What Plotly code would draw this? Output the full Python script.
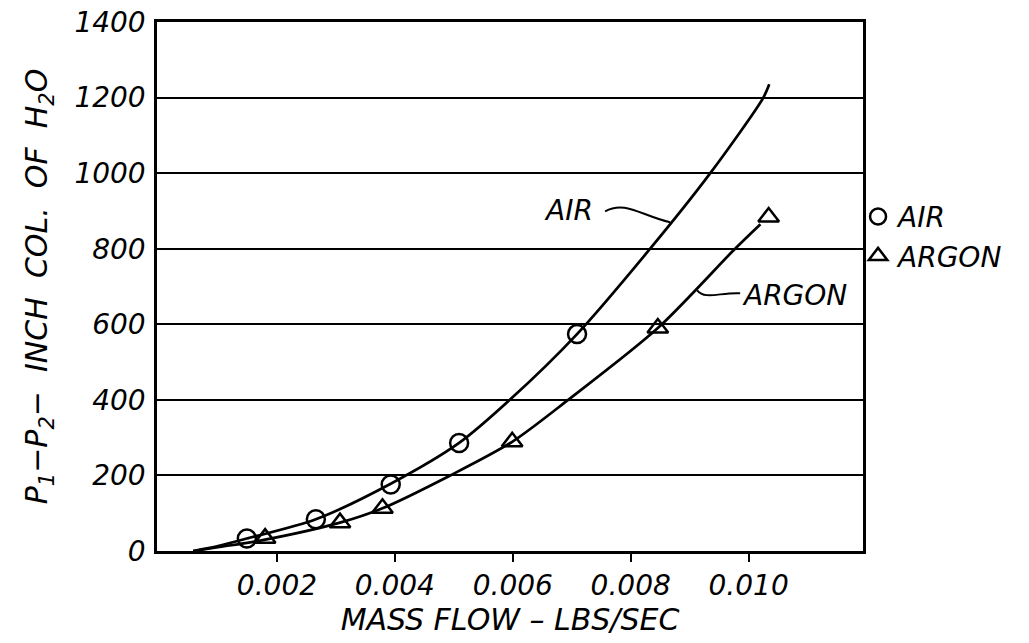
import plotly.graph_objects as go

FONT = dict(family="DejaVu Sans", size=28, color="black", style="italic")
TITLE_FONT = dict(family="DejaVu Sans", size=30, color="black", style="italic")

# measured points
air_flow = [0.00149, 0.00266, 0.00393, 0.00509, 0.00709]
air_dp = [33, 84, 176, 286, 574]
argon_flow = [0.00180, 0.00307, 0.00379, 0.00599, 0.00846, 0.01034]
argon_dp = [34, 75, 113, 289, 590, 884]

# curves as drawn through the points
air_curve_flow = [0.00058, 0.0010, 0.00149, 0.00266, 0.00393, 0.00509,
                  0.00595, 0.00709, 0.00833, 0.00935, 0.01025, 0.01035]
air_curve_dp = [0, 13, 33, 84, 178, 286, 400, 574, 800, 1000, 1200, 1235]
argon_curve_flow = [0.00058, 0.0010, 0.0018, 0.00307, 0.00379, 0.00494,
                    0.00599, 0.00694, 0.00846, 0.00977, 0.0102]
argon_curve_dp = [0, 10, 30, 75, 113, 200, 289, 400, 590, 800, 865]

x_ticks = [0.002, 0.004, 0.006, 0.008, 0.010]
x_labels = ["0.002", "0.004", "0.006", "0.008", "0.010"]
y_ticks = [0, 200, 400, 600, 800, 1000, 1200, 1400]

fig = go.Figure()
fig.add_trace(go.Scatter(x=air_curve_flow, y=air_curve_dp, mode="lines",
                         line=dict(color="black", width=2.7, shape="spline", smoothing=0.8),
                         showlegend=False, hoverinfo="skip"))
fig.add_trace(go.Scatter(x=argon_curve_flow, y=argon_curve_dp, mode="lines",
                         line=dict(color="black", width=2.7, shape="spline", smoothing=0.8),
                         showlegend=False, hoverinfo="skip"))
fig.add_trace(go.Scatter(x=air_flow, y=air_dp, mode="markers", name="AIR",
                         marker=dict(symbol="circle-open", size=18, color="black",
                                     line=dict(width=2.5, color="black"))))
fig.add_trace(go.Scatter(x=argon_flow, y=argon_dp, mode="markers", name="ARGON",
                         marker=dict(symbol="triangle-up-open", size=18, color="black",
                                     line=dict(width=2.5, color="black"))))

# curve labels with wavy leaders
fig.add_annotation(x=0.0074, y=902, text="AIR", showarrow=False, xanchor="right",
                   yanchor="middle", font=FONT)
fig.add_annotation(x=0.00986, y=677, text="ARGON", showarrow=False, xanchor="left",
                   yanchor="middle", font=FONT)
fig.add_shape(type="path", xref="x", yref="y",
              path="M 0.007566,899 C 0.007905,928 0.008159,889 0.008668,870",
              line=dict(color="black", width=2))
fig.add_shape(type="path", xref="x", yref="y",
              path="M 0.009127,690 C 0.009262,664 0.009517,685 0.009856,682",
              line=dict(color="black", width=2))

fig.update_layout(
    width=1029, height=643,
    margin=dict(l=157, r=166, t=22, b=92, autoexpand=False),
    paper_bgcolor="white", plot_bgcolor="white",
    font=FONT,
    legend=dict(x=0.993, y=0.679, xanchor="left", yanchor="top",
                font=FONT, itemwidth=30, bgcolor="rgba(0,0,0,0)"),
)
fig.update_xaxes(
    range=[-0.000034, 0.01194], tickvals=x_ticks, ticktext=x_labels,
    showgrid=False, zeroline=False, showline=True, mirror=True,
    linecolor="black", linewidth=2.5, ticks="outside", ticklen=8,
    tickwidth=2, tickcolor="black", tickfont=FONT, automargin=False,
    title=dict(text="MASS FLOW – LBS/SEC", font=TITLE_FONT, standoff=8),
)
nb = "\u00a0"
fig.update_yaxes(
    range=[0, 1400], tickvals=y_ticks, showgrid=True, gridcolor="black",
    gridwidth=2, zeroline=False, showline=True, mirror=True,
    linecolor="black", linewidth=2.5, ticks="", tickfont=FONT,
    ticklabelstandoff=3, automargin=False,
    title=dict(text=f"P<sub>1</sub>−P<sub>2</sub>−{nb}{nb}INCH{nb}{nb}COL.{nb}{nb}OF{nb}{nb}H<sub>2</sub>O",
               font=TITLE_FONT, standoff=18),
)

fig.write_html("out.html", config={"displayModeBar": False},
               post_script="document.body.style.margin='0';")
